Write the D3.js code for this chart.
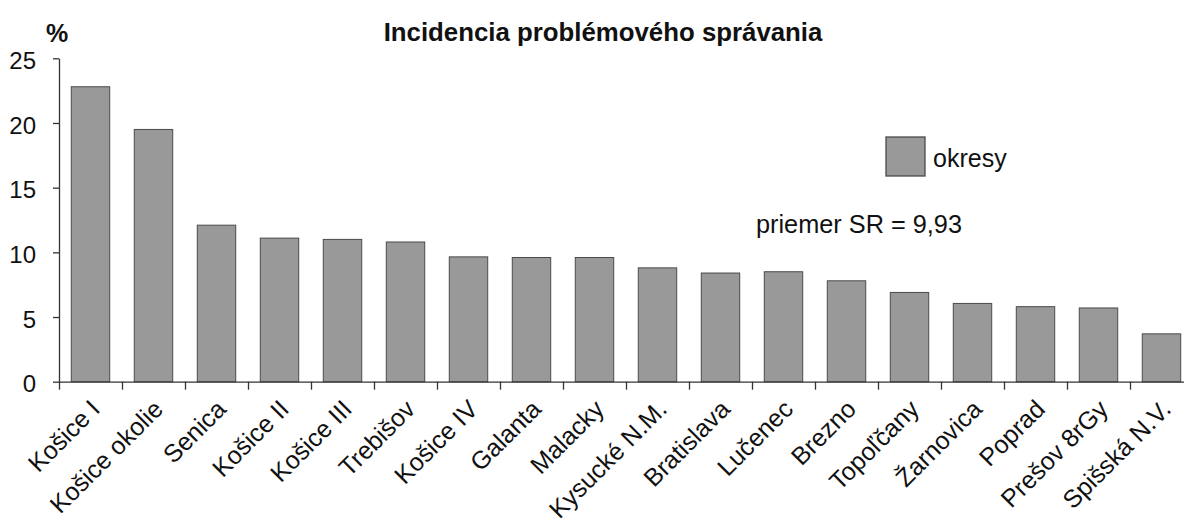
<!DOCTYPE html>
<html>
<head>
<meta charset="utf-8">
<script src="https://cdn.jsdelivr.net/npm/d3@7/dist/d3.min.js"></script>
<style>
  html, body { margin: 0; padding: 0; background: #fff; }
  svg { display: block; font-family: "Liberation Sans", Arial, sans-serif; }
</style>
</head>
<body>
<svg id="chart" width="1184" height="520"></svg>
<script>
// Districts and incidence of problem behaviour (%)
const districts = ["Košice I", "Košice okolie", "Senica", "Košice II", "Košice III", "Trebišov",
  "Košice IV", "Galanta", "Malacky", "Kysucké N.M.", "Bratislava", "Lučenec", "Brezno",
  "Topoľčany", "Žarnovica", "Poprad", "Prešov 8rGy", "Spišská N.V."];
const incidence = [22.8, 19.5, 12.1, 11.1, 11.0, 10.8, 9.65, 9.6, 9.6, 8.8, 8.4, 8.5, 7.8,
  6.9, 6.05, 5.8, 5.7, 3.7];
const yTicks = [0, 5, 10, 15, 20, 25];
const chartTitle = "Incidencia problémového správania";
const unitLabel = "%";
const legendLabel = "okresy";
const averageNote = "priemer SR = 9,93";

const svg = d3.select("#chart");
const plotLeft = 59, plotRight = 1193, plotTop = 58.3, plotBottom = 381.7;

const y = d3.scaleLinear().domain([0, 25]).range([plotBottom, plotTop]);
const x = d3.scaleBand().domain(districts).range([plotLeft, plotRight])
  .paddingInner(0.39).paddingOuter(0.195);
// category boundaries for tick marks
const xb = d3.scaleLinear().domain([0, districts.length]).range([plotLeft, plotRight]);

const barFill = "#999999", barStroke = "#4a4a4a";

// bars
svg.append("g").selectAll("rect").data(districts).join("rect")
  .attr("x", d => x(d))
  .attr("y", (d, i) => y(incidence[i]))
  .attr("width", x.bandwidth())
  .attr("height", (d, i) => y(0) - y(incidence[i]))
  .attr("fill", barFill)
  .attr("stroke", barStroke)
  .attr("stroke-width", 1);

// y axis
const yAxis = svg.append("g").attr("transform", `translate(${plotLeft},0)`)
  .call(d3.axisLeft(y).tickValues(yTicks).tickSize(6).tickSizeOuter(0).tickPadding(17));
yAxis.selectAll("text").attr("font-size", 24).attr("fill", "#111")
  .attr("font-family", "Liberation Sans, Arial, sans-serif").attr("dy", "0.42em");
yAxis.selectAll("line, path").attr("stroke", "#333").attr("stroke-width", 1.3);

// x axis with ticks at category boundaries
const xAxis = svg.append("g").attr("transform", `translate(0,${plotBottom})`)
  .call(d3.axisBottom(xb).tickValues(d3.range(0, districts.length + 1)).tickSize(8)
    .tickSizeOuter(0).tickFormat(""));
xAxis.selectAll("line, path").attr("stroke", "#333").attr("stroke-width", 1.3);

// rotated category labels
svg.append("g").selectAll("text").data(districts).join("text")
  .attr("transform", d => `translate(${x(d) + x.bandwidth() / 2 + 11},${plotBottom + 29}) rotate(-45)`)
  .attr("text-anchor", "end")
  .attr("font-size", 25)
  .attr("fill", "#111")
  .text(d => d);

// title and unit
svg.append("text").attr("x", 603).attr("y", 41).attr("text-anchor", "middle")
  .attr("font-size", 25.8).attr("font-weight", "bold").attr("fill", "#111").text(chartTitle);
svg.append("text").attr("x", 46).attr("y", 42)
  .attr("font-size", 25).attr("font-weight", "bold").attr("fill", "#111").text(unitLabel);

// legend
svg.append("rect").attr("x", 886).attr("y", 137).attr("width", 39).attr("height", 39)
  .attr("fill", barFill).attr("stroke", barStroke).attr("stroke-width", 1.3);
svg.append("text").attr("x", 933).attr("y", 167).attr("font-size", 25).attr("fill", "#111").text(legendLabel);

// national average note
svg.append("text").attr("x", 756).attr("y", 233).attr("font-size", 25.3).attr("fill", "#111").text(averageNote);
</script>
</body>
</html>
